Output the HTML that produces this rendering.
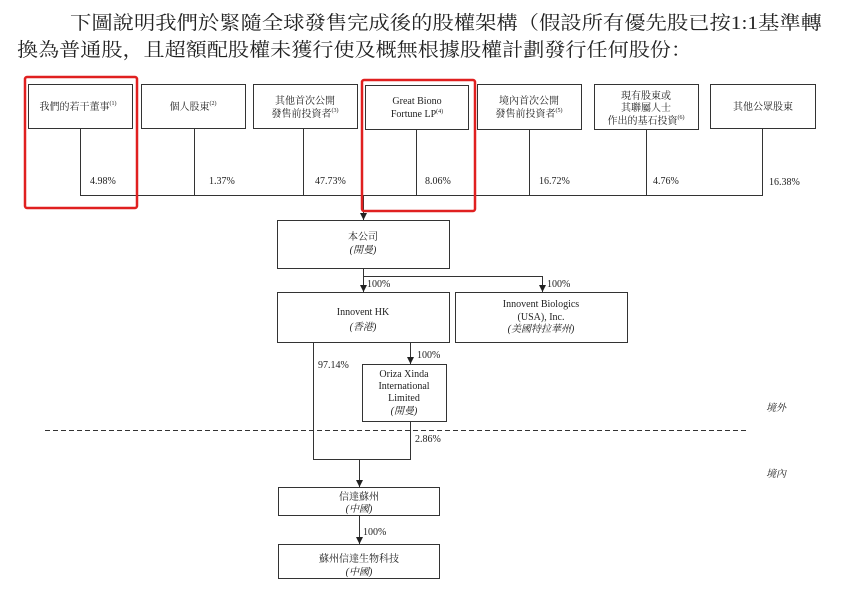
<!DOCTYPE html>
<html><head><meta charset="utf-8"><style>
body{margin:0;background:#fff;}
svg{display:block;}
.t{font-family:"Liberation Serif","Noto Serif CJK SC",serif;fill:#222;}
.s{font-size:10px;}
</style></head><body>
<svg width="864" height="608" viewBox="0 0 864 608" xmlns="http://www.w3.org/2000/svg">
<defs><marker id="a" markerWidth="8" markerHeight="8" refX="7" refY="3.5" orient="auto" markerUnits="userSpaceOnUse"><path d="M0,0 L7,3.5 L0,7 Z" fill="#222"/></marker></defs>
<text class="t" x="70" y="29" font-size="19" textLength="752" lengthAdjust="spacingAndGlyphs">下圖說明我們於緊隨全球發售完成後的股權架構（假設所有優先股已按1:1基準轉</text>
<text class="t" x="17" y="56" font-size="19" textLength="675" lengthAdjust="spacingAndGlyphs">換為普通股，且超額配股權未獲行使及概無根據股權計劃發行任何股份：</text>
<g fill="none" stroke="#333" stroke-width="1">
<rect x="28.5" y="84.5" width="104" height="44"/>
<rect x="141.5" y="84.5" width="104" height="44"/>
<rect x="253.5" y="84.5" width="104" height="44"/>
<rect x="365.5" y="85.5" width="103" height="44"/>
<rect x="477.5" y="84.5" width="104" height="45"/>
<rect x="594.5" y="84.5" width="104" height="45"/>
<rect x="710.5" y="84.5" width="105" height="44"/>
<path d="M80.5,128V195.5H762.5V128 M194.5,128V195 M303.5,128V195 M416.5,129V195 M529.5,129V195 M646.5,129V195"/>
<rect x="277.5" y="220.5" width="172" height="48"/>
<rect x="277.5" y="292.5" width="172" height="50"/>
<rect x="455.5" y="292.5" width="172" height="50"/>
<rect x="362.5" y="364.5" width="84" height="57"/>
<rect x="278.5" y="487.5" width="161" height="28"/>
<rect x="278.5" y="544.5" width="161" height="34"/>
<path d="M363.5,195V220" marker-end="url(#a)"/>
<path d="M363.5,268V292" marker-end="url(#a)"/>
<path d="M363.5,276.5H542.5V292" marker-end="url(#a)"/>
<path d="M410.5,342V364" marker-end="url(#a)"/>
<path d="M313.5,342V459.5H410.5V421"/>
<path d="M359.5,459V487" marker-end="url(#a)"/>
<path d="M359.5,515V544" marker-end="url(#a)"/>
<path d="M45,430.5H748" stroke-dasharray="5,3"/>
</g>
<rect x="25" y="77" width="112" height="131" fill="none" stroke="#e02020" stroke-width="2.5" rx="2"/>
<rect x="362" y="80" width="113" height="131" fill="none" stroke="#e02020" stroke-width="2.5" rx="2"/>
<g class="t s" text-anchor="middle">
<text x="78" y="110">我們的若干董事<tspan font-size="6" dy="-5">(1)</tspan></text>
<text x="193" y="110">個人股東<tspan font-size="6" dy="-5">(2)</tspan></text>
<text x="305" y="104">其他首次公開</text>
<text x="305" y="117">發售前投資者<tspan font-size="6" dy="-5">(3)</tspan></text>
<text x="417" y="104">Great Biono</text>
<text x="417" y="117">Fortune LP<tspan font-size="6" dy="-4">(4)</tspan></text>
<text x="529" y="104">境內首次公開</text>
<text x="529" y="117">發售前投資者<tspan font-size="6" dy="-5">(5)</tspan></text>
<text x="646" y="99">現有股東或</text>
<text x="646" y="111">其聯屬人士</text>
<text x="646" y="124">作出的基石投資<tspan font-size="6" dy="-5">(6)</tspan></text>
<text x="763" y="110">其他公眾股東</text>
<text x="363" y="240">本公司</text>
<text x="363" y="253" font-style="italic">(開曼)</text>
<text x="363" y="315">Innovent HK</text>
<text x="363" y="330" font-style="italic">(香港)</text>
<text x="541" y="307">Innovent Biologics</text>
<text x="541" y="320">(USA), Inc.</text>
<text x="541" y="332" font-style="italic">(美國特拉華州)</text>
<text x="404" y="377">Oriza Xinda</text>
<text x="404" y="389">International</text>
<text x="404" y="401">Limited</text>
<text x="404" y="414" font-style="italic">(開曼)</text>
<text x="359" y="500">信達蘇州</text>
<text x="359" y="512" font-style="italic">(中國)</text>
<text x="359" y="562">蘇州信達生物科技</text>
<text x="359" y="575" font-style="italic">(中國)</text>
</g>
<g class="t s">
<text x="90" y="184">4.98%</text>
<text x="209" y="184">1.37%</text>
<text x="315" y="184">47.73%</text>
<text x="425" y="184">8.06%</text>
<text x="539" y="184">16.72%</text>
<text x="653" y="184">4.76%</text>
<text x="769" y="185">16.38%</text>
<text x="367" y="287">100%</text>
<text x="547" y="287">100%</text>
<text x="417" y="358">100%</text>
<text x="318" y="368">97.14%</text>
<text x="415" y="442">2.86%</text>
<text x="363" y="535">100%</text>
<text x="766" y="411" font-style="italic">境外</text>
<text x="766" y="477" font-style="italic">境內</text>
</g>
</svg>
</body></html>
